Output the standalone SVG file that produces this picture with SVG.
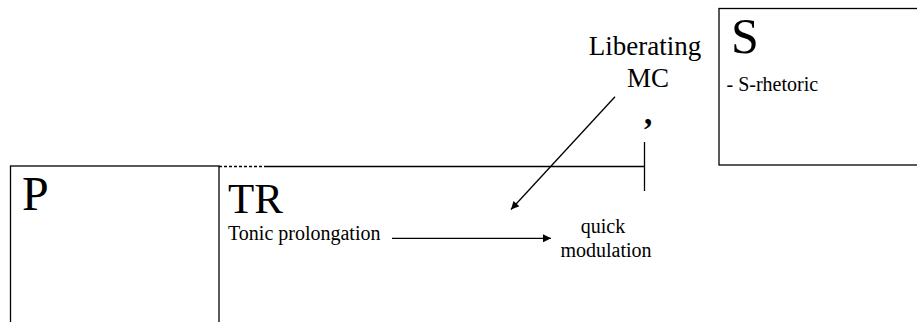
<svg xmlns="http://www.w3.org/2000/svg" width="917" height="322" viewBox="0 0 917 322">
<style>
  text { font-family: 'Liberation Serif', Tinos, 'DejaVu Serif', serif; fill: #000; }
  .box { fill: #fff; stroke: #000; stroke-width: 1.3; }
  .ln { stroke: #000; stroke-width: 1.3; fill: none; }
</style>
<defs>
  <marker id="ah" viewBox="0 0 10 10" refX="10" refY="5" markerWidth="10" markerHeight="8" markerUnits="userSpaceOnUse" orient="auto">
    <path d="M0,0 L10,5 L0,10 Z" fill="#000"/>
  </marker>
</defs>
<rect width="917" height="322" fill="#fff"/>
<g id="P">
  <rect class="box" x="10.5" y="166" width="208.5" height="170"/>
  <text x="22" y="209.5" font-size="48">P</text>
</g>
<g id="TR">
  <text x="228" y="212.5" font-size="43">TR</text>
  <text x="228" y="240" font-size="20">Tonic prolongation</text>
</g>
<g id="S">
  <rect class="box" x="719" y="8.5" width="210" height="156.5"/>
  <text x="731" y="52.5" font-size="50">S</text>
  <text x="726.5" y="90.5" font-size="20">- S-rhetoric</text>
</g>
<g id="MC">
  <text x="645" y="55" font-size="27" text-anchor="middle">Liberating</text>
  <text x="648" y="87" font-size="27" text-anchor="middle">MC</text>
  <text x="648" y="124" font-size="33" font-weight="bold" text-anchor="middle">,</text>
</g>
<g id="QM">
  <text x="603" y="233" font-size="20" text-anchor="middle">quick</text>
  <text x="606" y="257" font-size="20" text-anchor="middle">modulation</text>
</g>
<g id="connectors">
  <line class="ln" x1="219" y1="166.5" x2="267" y2="166.5" stroke-dasharray="3,2"/>
  <line class="ln" x1="267" y1="166.5" x2="644.5" y2="166.5"/>
  <line class="ln" x1="644.5" y1="142" x2="644.5" y2="191"/>
  <line class="ln" x1="392" y1="238.3" x2="551" y2="238.3" marker-end="url(#ah)"/>
  <line class="ln" x1="615" y1="96.7" x2="511" y2="209.5" marker-end="url(#ah)"/>
</g>
</svg>
